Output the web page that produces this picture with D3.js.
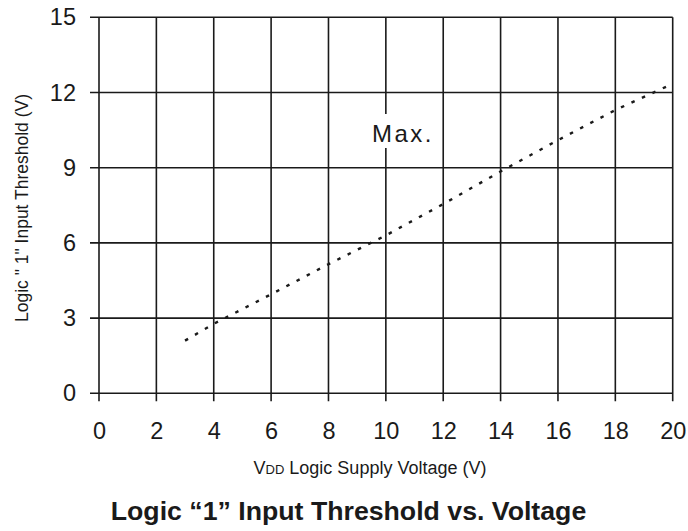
<!DOCTYPE html>
<html><head><meta charset="utf-8">
<script src="https://cdn.jsdelivr.net/npm/d3@7"></script>
<style>body{margin:0;background:#fff}svg{display:block}</style>
</head><body>
<script>
const xTicks = [0,2,4,6,8,10,12,14,16,18,20];
const yTicks = [0,3,6,9,12,15];
const vdd = [3,4,6,8,10,12,14,16,18,20];
const thresholdMax = [2.1,2.77,3.95,5.15,6.3,7.55,8.85,10.1,11.3,12.35];
const seriesLabel = "Max.";
const title = "Logic \u201c1\u201d Input Threshold vs. Voltage";
const yLabel = "Logic \" 1\" Input Threshold (V)";

const W = 688, H = 531;
const svg = d3.select("body").append("svg").attr("width", W).attr("height", H);
const x = d3.scaleLinear().domain([0,20]).range([99, 672.7]);
const y = d3.scaleLinear().domain([0,15]).range([393.3, 17.3]);
const ink = "#1a1a1a";
const font = "'Liberation Sans', Arial, sans-serif";

// grid
svg.append("g").selectAll("line").data(xTicks).join("line")
  .attr("x1", d => x(d)).attr("x2", d => x(d))
  .attr("y1", y(15)).attr("y2", y(0) + 8)
  .attr("stroke", ink).attr("stroke-width", 1.6);
svg.append("g").selectAll("line").data(yTicks).join("line")
  .attr("x1", x(0) - 9).attr("x2", x(20))
  .attr("y1", d => y(d)).attr("y2", d => y(d))
  .attr("stroke", ink).attr("stroke-width", 1.6);

// axes labels (via d3 axes)
const gx = svg.append("g").attr("transform", `translate(0,${y(0)})`)
  .call(d3.axisBottom(x).tickValues(xTicks).tickSize(0).tickPadding(29));
gx.select(".domain").remove();
gx.selectAll("text").attr("font-family", font).attr("font-size", 23.5).attr("fill", ink);

const gy = svg.append("g").attr("transform", `translate(${x(0)},0)`)
  .call(d3.axisLeft(y).tickValues(yTicks).tickSize(0).tickPadding(23));
gy.select(".domain").remove();
gy.selectAll("text").attr("font-family", font).attr("font-size", 23.5).attr("fill", ink);

// series
const line = d3.line().x((d,i) => x(vdd[i])).y(d => y(d));
svg.append("path").datum(thresholdMax).attr("d", line)
  .attr("fill", "none").attr("stroke", ink).attr("stroke-width", 2.4)
  .attr("stroke-dasharray", "3.5 8");

// Max. label with white background
svg.append("rect").attr("x", 367).attr("y", 114).attr("width", 70).attr("height", 34).attr("fill", "#fff");
svg.append("text").attr("x", 372).attr("y", 142).attr("font-family", font)
  .attr("font-size", 24).attr("letter-spacing", 2.5).attr("fill", ink).text(seriesLabel);

// y label
svg.append("text").attr("transform", "translate(28,208) rotate(-90)")
  .attr("text-anchor", "middle").attr("font-family", font).attr("font-size", 17.5)
  .attr("fill", ink).text(yLabel);

// x label
const xl = svg.append("text").attr("x", 370).attr("y", 474).attr("text-anchor", "middle")
  .attr("font-family", font).attr("font-size", 18).attr("fill", ink);
xl.append("tspan").text("V");
xl.append("tspan").attr("font-size", 13).text("DD");
xl.append("tspan").text(" Logic Supply Voltage (V)");

// title
svg.append("text").attr("x", 348.5).attr("y", 520).attr("text-anchor", "middle")
  .attr("font-family", font).attr("font-weight", "bold").attr("font-size", 26.7)
  .attr("fill", ink).text(title);
</script>
</body></html>
